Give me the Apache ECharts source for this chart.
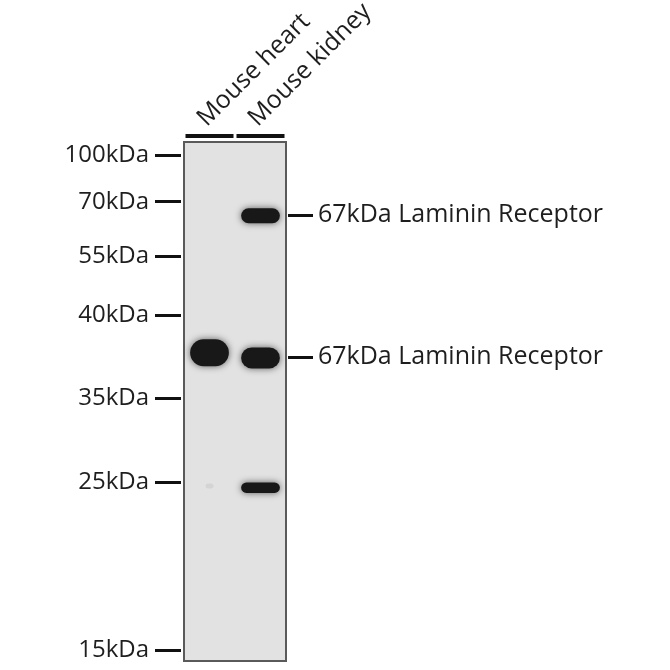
<!DOCTYPE html>
<html>
<head>
<meta charset="utf-8">
<script src="https://cdn.jsdelivr.net/npm/echarts@6/dist/echarts.min.js"></script>
<style>
html,body{margin:0;padding:0;background:#fff}
#myCanvas{width:670px;height:670px}
</style>
</head>
<body>
<div id="myCanvas"></div>
<script>
// lanes of the blot
var lanes = ['Mouse heart', 'Mouse kidney'];

// marker ladder: label + relative migration (0 = top of membrane, 1 = bottom)
var markerLabels = ['100kDa', '70kDa', '55kDa', '40kDa', '35kDa', '25kDa', '15kDa'];
var markerRf = [0.026, 0.115, 0.220, 0.334, 0.493, 0.656, 0.980];

// annotations on the right
var targetLabels = ['67kDa Laminin Receptor', '67kDa Laminin Receptor'];
var targetRf = [0.141, 0.414];

// bands: lane index, relative migration, intensity (0..1)
var bandLane = [0, 1, 1, 1, 0];
var bandRf = [0.406, 0.416, 0.142, 0.666, 0.663];
var bandIntensity = [1.0, 0.8, 0.6, 0.45, 0.05];

var FONT = 'Open Sans';

var bandData = bandLane.map(function (l, i) {
    return [l, bandRf[i], bandIntensity[i]];
});

var nearest = function (arr, v) {
    var best = 0;
    for (var i = 1; i < arr.length; i++) {
        if (Math.abs(arr[i] - v) < Math.abs(arr[best] - v)) best = i;
    }
    return best;
};

var myChart = echarts.init(document.getElementById('myCanvas'));
var option = {
    backgroundColor: '#fff',
    animation: false,
    grid: {
        left: 184,
        top: 142,
        width: 102,
        height: 519,
        show: true,
        backgroundColor: '#e2e2e2',
        borderColor: '#5a5a5a',
        borderWidth: 2
    },
    xAxis: {
        type: 'category',
        data: lanes,
        show: false
    },
    yAxis: [
        {
            type: 'value',
            min: 0,
            max: 1,
            inverse: true,
            position: 'left',
            offset: 3,
            axisLine: {show: false},
            splitLine: {show: false},
            axisTick: {
                show: true,
                customValues: markerRf,
                length: 26,
                lineStyle: {color: '#111', width: 3}
            },
            axisLabel: {
                customValues: markerRf,
                margin: 32,
                fontSize: 24,
                fontFamily: FONT,
                color: '#1e1e1e',
                formatter: function (v) {
                    return markerLabels[nearest(markerRf, v)];
                }
            }
        },
        {
            type: 'value',
            min: 0,
            max: 1,
            inverse: true,
            position: 'right',
            offset: 2,
            axisLine: {show: false},
            splitLine: {show: false},
            axisTick: {
                show: true,
                customValues: targetRf,
                length: 25,
                lineStyle: {color: '#111', width: 3}
            },
            axisLabel: {
                customValues: targetRf,
                margin: 30,
                fontSize: 25,
                fontFamily: FONT,
                color: '#1e1e1e',
                formatter: function (v) {
                    return targetLabels[nearest(targetRf, v)];
                }
            }
        }
    ],
    series: [
        {
            // lane header bars + rotated lane names
            type: 'custom',
            clip: false,
            silent: true,
            data: lanes.map(function (n, i) { return [i, 0]; }),
            renderItem: function (params, api) {
                var idx = api.value(0);
                var p = api.coord([idx, 0]);
                var bw = api.size([1, 0])[0];
                return {
                    type: 'group',
                    children: [
                        {
                            type: 'line',
                            shape: {x1: p[0] - bw / 2 + 1.5, y1: p[1] - 6, x2: p[0] + bw / 2 - 1.5, y2: p[1] - 6},
                            style: {stroke: '#111', lineWidth: 4}
                        },
                        {
                            type: 'text',
                            x: p[0] + 1,
                            y: p[1] - 11,
                            rotation: Math.PI / 4,
                            style: {
                                text: lanes[idx],
                                fontSize: 25,
                                fontFamily: FONT,
                                fill: '#1e1e1e',
                                align: 'left',
                                verticalAlign: 'bottom'
                            }
                        }
                    ]
                };
            }
        },
        {
            // protein bands
            type: 'custom',
            silent: true,
            data: bandData,
            renderItem: function (params, api) {
                var p = api.coord([api.value(0), api.value(1)]);
                var bw = api.size([1, 0])[0];
                var inten = api.value(2);
                var w = bw * 0.76;
                var h = Math.max(5, 30 * inten - 3);
                var faint = inten < 0.2;
                if (faint) { w = 8; h = 5; }
                return {
                    type: 'rect',
                    shape: {x: p[0] - w / 2, y: p[1] - h / 2, width: w, height: h, r: h * 0.5},
                    style: {
                        fill: faint ? 'rgba(0,0,0,0.06)' : '#181818',
                        shadowBlur: faint ? 3 : 7,
                        shadowColor: faint ? 'rgba(0,0,0,0.05)' : 'rgba(0,0,0,0.6)'
                    }
                };
            }
        }
    ]
};

myChart.setOption(option);
</script>
</body>
</html>
